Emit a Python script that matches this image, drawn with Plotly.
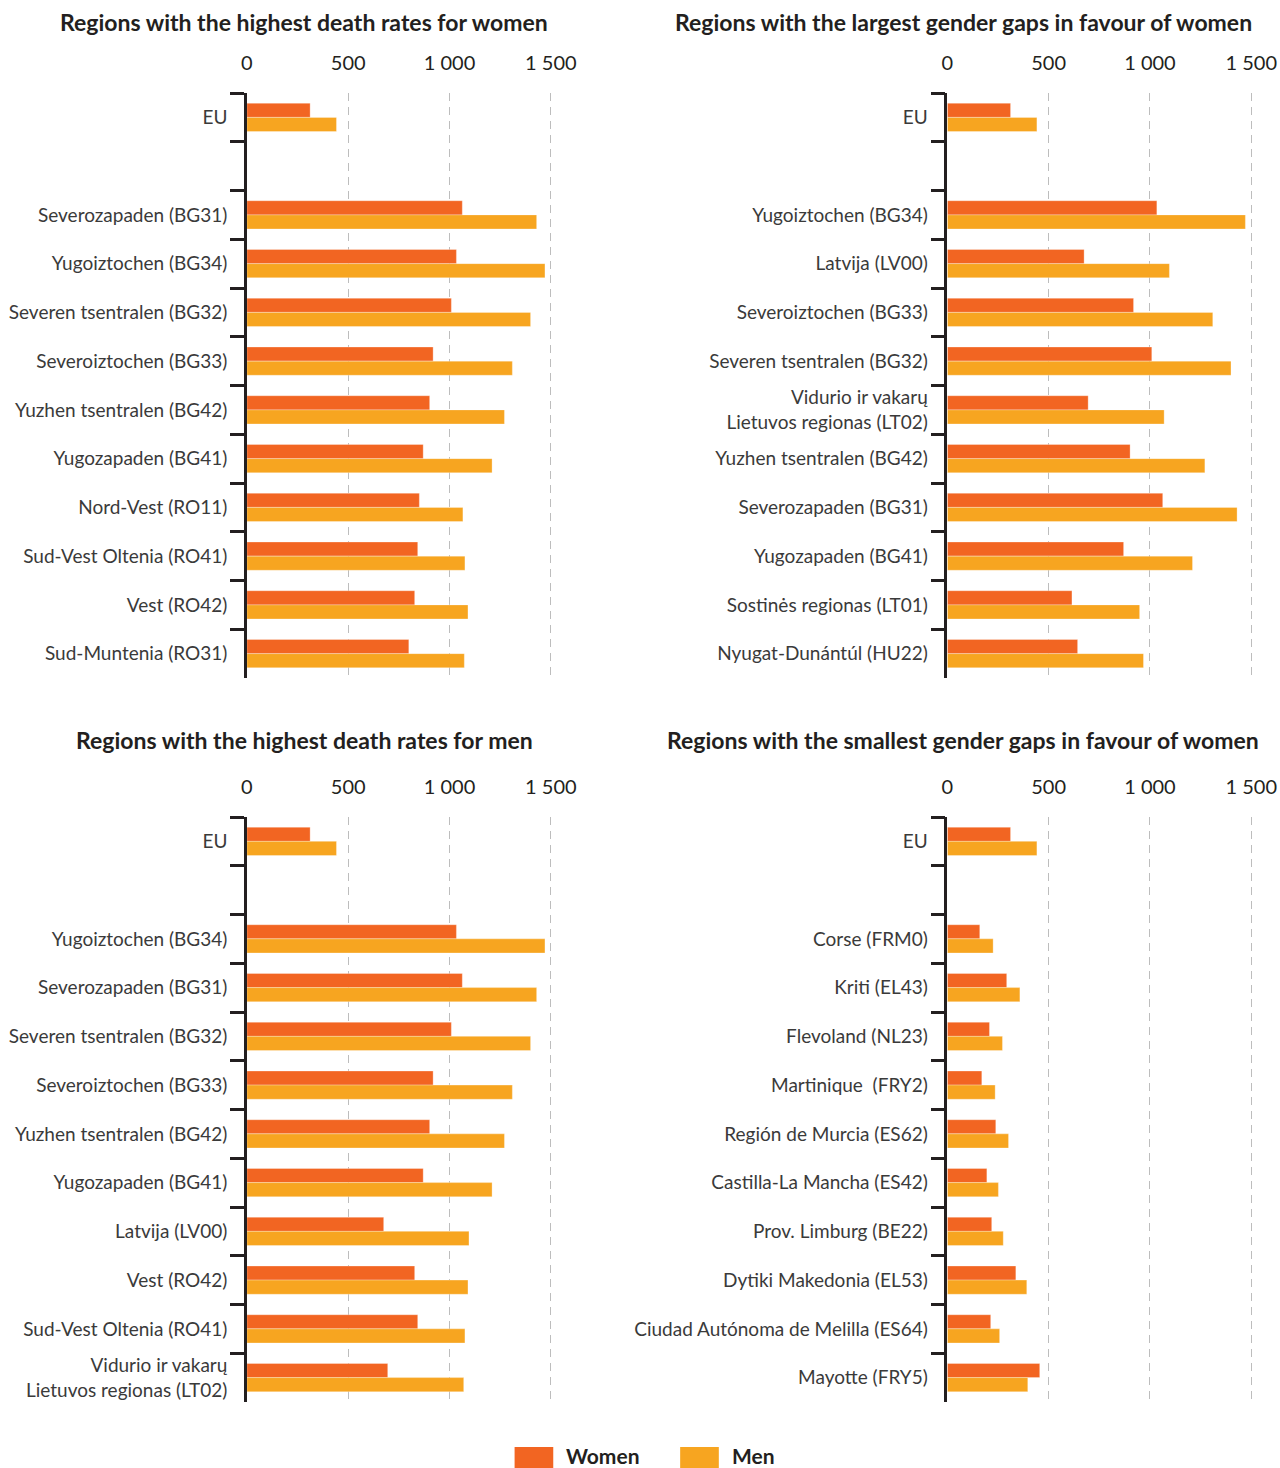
import plotly.graph_objects as go

# values (deaths per 100 000 inhabitants)
eu_women = 312
eu_men = 442

# panel 1: highest death rates for women
p1_regions = ["Severozapaden (BG31)", "Yugoiztochen (BG34)", "Severen tsentralen (BG32)",
              "Severoiztochen (BG33)", "Yuzhen tsentralen (BG42)", "Yugozapaden (BG41)",
              "Nord-Vest (RO11)", "Sud-Vest Oltenia (RO41)", "Vest (RO42)", "Sud-Muntenia (RO31)"]
p1_women = [1063, 1034, 1009, 919, 902, 870, 851, 843, 828, 799]
p1_men = [1430, 1471, 1400, 1310, 1271, 1210, 1066, 1076, 1091, 1073]

# panel 2: largest gender gaps in favour of women
p2_regions = ["Yugoiztochen (BG34)", "Latvija (LV00)", "Severoiztochen (BG33)",
              "Severen tsentralen (BG32)", "Vidurio ir vakarų<br>Lietuvos regionas (LT02)",
              "Yuzhen tsentralen (BG42)", "Severozapaden (BG31)", "Yugozapaden (BG41)",
              "Sostinės regionas (LT01)", "Nyugat-Dunántúl (HU22)"]
p2_women = [1034, 675, 919, 1009, 695, 902, 1063, 870, 615, 643]
p2_men = [1471, 1096, 1310, 1400, 1070, 1271, 1430, 1210, 949, 968]

# panel 3: highest death rates for men
p3_regions = ["Yugoiztochen (BG34)", "Severozapaden (BG31)", "Severen tsentralen (BG32)",
              "Severoiztochen (BG33)", "Yuzhen tsentralen (BG42)", "Yugozapaden (BG41)",
              "Latvija (LV00)", "Vest (RO42)", "Sud-Vest Oltenia (RO41)",
              "Vidurio ir vakarų<br>Lietuvos regionas (LT02)"]
p3_women = [1034, 1063, 1009, 919, 902, 870, 675, 828, 843, 695]
p3_men = [1471, 1430, 1400, 1310, 1271, 1210, 1096, 1091, 1076, 1070]

# panel 4: smallest gender gaps in favour of women
p4_regions = ["Corse (FRM0)", "Kriti (EL43)", "Flevoland (NL23)", "Martinique  (FRY2)",
              "Región de Murcia (ES62)", "Castilla-La Mancha (ES42)", "Prov. Limburg (BE22)",
              "Dytiki Makedonia (EL53)", "Ciudad Autónoma de Melilla (ES64)", "Mayotte (FRY5)"]
p4_women = [160, 293, 208, 170, 239, 195, 219, 338, 214, 456]
p4_men = [226, 358, 272, 236, 302, 252, 276, 392, 258, 397]

titles = ["Regions with the highest death rates for women",
          "Regions with the largest gender gaps in favour of women",
          "Regions with the highest death rates for men",
          "Regions with the smallest gender gaps in favour of women"]

x_ticks = [0, 500, 1000, 1500]
x_ticktext = ["0", "500", "1 000", "1 500"]

women_color = "#F26522"
men_color = "#F7A520"
ink = "#231F20"
font_main = "Lato"

W, H = 1280, 1468


def px_x(v):
    return v / W


def px_y(v):
    return 1 - v / H


# panel placement in page pixels
x_left = [243, 949.5]
plot_w = 327
y_tops = [93, 817]
plot_h = 585
title_x = [301, 965.5]
title_y = [22, 740]

panels = [(p1_regions, p1_women, p1_men),
          (p2_regions, p2_women, p2_men),
          (p3_regions, p3_women, p3_men),
          (p4_regions, p4_women, p4_men)]

fig = go.Figure()
layout = {}
for i, (regions, w_vals, m_vals) in enumerate(panels):
    col = i % 2
    row = i // 2
    n = i + 1
    xa = "x" if n == 1 else f"x{n}"
    ya = "y" if n == 1 else f"y{n}"
    cats = ["EU", " "] + regions
    fig.add_trace(go.Bar(
        y=cats, x=[eu_women, None] + w_vals, orientation="h", name="Women",
        marker=dict(color=women_color, line=dict(color="rgba(255,255,255,0.5)", width=0.6)),
        xaxis=xa, yaxis=ya, showlegend=False))
    fig.add_trace(go.Bar(
        y=cats, x=[eu_men, None] + m_vals, orientation="h", name="Men",
        marker=dict(color=men_color, line=dict(color="rgba(255,255,255,0.5)", width=0.6)),
        xaxis=xa, yaxis=ya, showlegend=False))

    key = "" if n == 1 else str(n)
    layout["xaxis" + key] = dict(
        domain=[px_x(x_left[col]), px_x(x_left[col] + plot_w)], anchor=ya, side="top",
        range=[0, 1600], tickvals=x_ticks, ticktext=x_ticktext, ticks="",
        ticklabelstandoff=18, showgrid=True, gridcolor="#BDBDBD", griddash="8px,6px",
        gridwidth=1, zeroline=False, showline=False,
        tickfont=dict(family=font_main, size=20, color=ink))
    layout["yaxis" + key] = dict(
        domain=[px_y(y_tops[row] + plot_h), px_y(y_tops[row])], anchor=xa, type="category",
        categoryorder="array", categoryarray=cats, range=[11.5, -0.5],
        showline=True, linecolor=ink, linewidth=2.5,
        ticks="outside", tickson="boundaries", ticklen=14, tickwidth=2.5, tickcolor=ink,
        ticklabelstandoff=13, showgrid=False, zeroline=False,
        tickfont=dict(family=font_main, size=19, color="#3A3A3A"))

    fig.add_annotation(
        text="<b>" + titles[i] + "</b>", xref="paper", yref="paper",
        x=px_x(title_x[col]), y=px_y(title_y[row]), xanchor="center", yanchor="middle",
        showarrow=False, font=dict(family=font_main, size=23, color=ink))

# custom legend at the bottom
legend_items = [("Women", women_color, 513), ("Men", men_color, 680)]
for label, color, px in legend_items:
    fig.add_shape(type="rect", xref="paper", yref="paper",
                  x0=px_x(px), x1=px_x(px + 39), y0=0, y1=px_y(1447),
                  fillcolor=color, line=dict(width=0))
    fig.add_annotation(text="<b>" + label + "</b>", xref="paper", yref="paper",
                       x=px_x(px + 50), y=px_y(1455), xanchor="left", yanchor="middle",
                       showarrow=False, font=dict(family=font_main, size=21, color=ink))

fig.update_layout(
    width=W, height=H, margin=dict(l=0, r=0, t=0, b=0),
    plot_bgcolor="white", paper_bgcolor="white",
    barmode="group", bargap=0.42, bargroupgap=0,
    **layout)

# drop the default page margin so the figure fills the window exactly
fig.write_html("out.html", config={"displayModeBar": False},
               post_script="document.body.style.margin='0';"
                           "document.documentElement.style.overflow='hidden';")
